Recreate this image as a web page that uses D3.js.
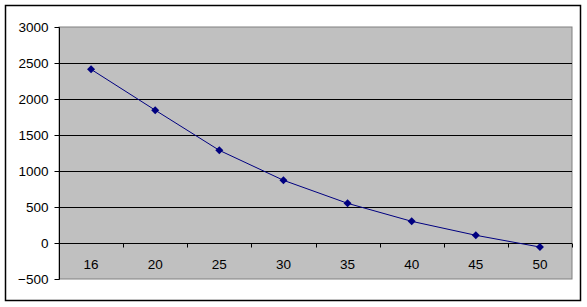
<!DOCTYPE html>
<html><head><meta charset="utf-8">
<script src="https://cdn.jsdelivr.net/npm/d3@7"></script>
<style>body{margin:0;background:#fff;}svg{display:block;}</style>
</head><body>
<script>
const categories = ["16","20","25","30","35","40","45","50"];
const values = [2412, 1845, 1287, 871, 551, 301, 107, -56];
const yTicks = [-500, 0, 500, 1000, 1500, 2000, 2500, 3000];

(function () {
const W = 587, H = 307;
const svg = d3.select("body").append("svg").attr("width", W).attr("height", H);
const font = "'Liberation Sans', Arial, sans-serif";

// outer border
svg.append("rect").attr("x", 5.5).attr("y", 5.5).attr("width", 575).attr("height", 295)
  .attr("fill", "#fff").attr("stroke", "#000").attr("stroke-width", 1.5);

const pL = 59, pR = 572, pT = 27, pB = 279;
const x = d3.scaleBand().domain(categories).range([pL, pR]);
const y = d3.scaleLinear().domain([-500, 3000]).range([pB, pT]);

// plot area
svg.append("rect").attr("x", pL).attr("y", pT).attr("width", pR - pL).attr("height", pB - pT)
  .attr("fill", "#C0C0C0").attr("stroke", "#808080").attr("stroke-width", 1);

// gridlines
svg.append("g").selectAll("line").data(yTicks.filter(d => d > -500 && d < 3000)).join("line")
  .attr("x1", pL).attr("x2", pR)
  .attr("y1", d => Math.round(y(d)) + 0.5).attr("y2", d => Math.round(y(d)) + 0.5)
  .attr("stroke", "#000").attr("stroke-width", 1);

// y axis
const yAxis = d3.axisLeft(y).tickValues(yTicks).tickSize(5).tickPadding(6).tickFormat(d3.format("d"));
const gy = svg.append("g").attr("transform", `translate(${pL + 0.5},0.5)`).call(yAxis);
gy.select(".domain").attr("stroke", "#000").attr("d", `M0,${y(3000)}V${y(-500)}`);
gy.selectAll(".tick line").attr("stroke", "#000");
gy.selectAll("text").attr("font-family", font).attr("font-size", 13.5).attr("fill", "#000");
gy.selectAll(".tick").attr("transform", d => `translate(0,${Math.round(y(d))})`);

// x axis at zero
const zy = Math.round(y(0)) + 0.5;
const gx = svg.append("g");
gx.append("line").attr("x1", pL).attr("x2", pR).attr("y1", zy).attr("y2", zy).attr("stroke", "#000");
const bounds = categories.map(c => x(c)).concat([pR]);
gx.selectAll("line.tk").data(bounds).join("line").attr("class", "tk")
  .attr("x1", d => Math.round(d) + 0.5).attr("x2", d => Math.round(d) + 0.5)
  .attr("y1", zy).attr("y2", zy + 4).attr("stroke", "#000");
gx.selectAll("text").data(categories).join("text")
  .attr("x", d => x(d) + x.bandwidth() / 2).attr("y", zy + 25)
  .attr("text-anchor", "middle").attr("font-family", font).attr("font-size", 13.5).attr("fill", "#000")
  .text(d => d);

// line
const pts = categories.map((c, i) => [x(c) + x.bandwidth() / 2, y(values[i])]);
svg.append("path").attr("d", d3.line()(pts)).attr("fill", "none").attr("stroke", "#000080").attr("stroke-width", 1);
svg.append("g").selectAll("path").data(pts).join("path")
  .attr("transform", d => `translate(${d[0]},${d[1]})`)
  .attr("d", "M0,-4L4,0L0,4L-4,0Z").attr("fill", "#000080");
})();
</script>
</body></html>
